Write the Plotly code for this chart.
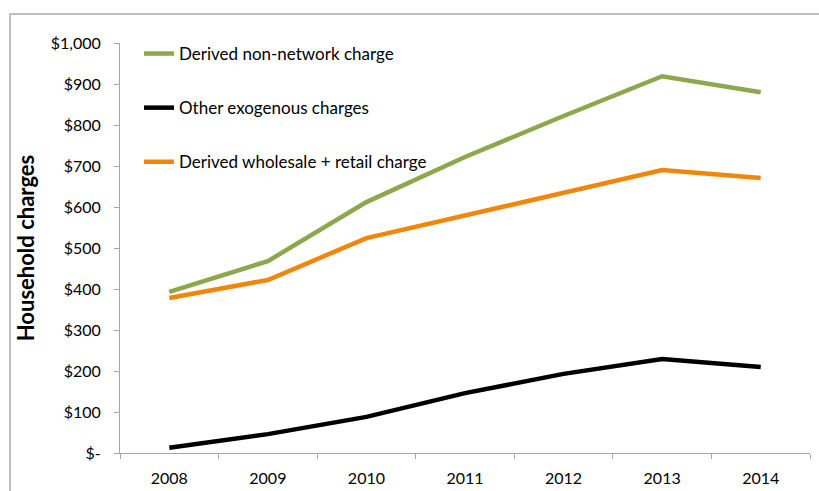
import plotly.graph_objects as go

years = ["2008", "2009", "2010", "2011", "2012", "2013", "2014"]
non_network = [393, 468, 612, 722, 822, 919, 880]
other_exogenous = [13, 46, 88, 146, 193, 229, 210]
wholesale_retail = [378, 422, 524, 580, 634, 690, 671]

y_ticks = [0, 100, 200, 300, 400, 500, 600, 700, 800, 900, 1000]
y_tick_text = ["$-", "$100", "$200", "$300", "$400", "$500", "$600",
               "$700", "$800", "$900", "$1,000"]

series = [
    ("Derived non-network charge", non_network, "#8DA84C"),
    ("Other exogenous charges", other_exogenous, "#000000"),
    ("Derived wholesale + retail charge", wholesale_retail, "#F0870C"),
]

FONT = "Lato, Liberation Sans, Arial, sans-serif"

fig = go.Figure()
for i, (name, vals, color) in enumerate(series):
    fig.add_trace(go.Scatter(
        x=years, y=vals, name=name, mode="lines",
        line=dict(color=color, width=4.5),
        legendgroup=f"g{i}",
    ))

W, H = 819, 491
ml, mr, mt, mb = 120, 9, 43, 38
pw, ph = W - ml - mr, H - mt - mb

fig.update_layout(
    width=W, height=H,
    margin=dict(l=ml, r=mr, t=mt, b=mb, autoexpand=False),
    paper_bgcolor="white", plot_bgcolor="white",
    font=dict(family=FONT, size=16, color="#000000"),
    showlegend=True,
    legend=dict(
        x=(139 - ml) / pw, y=1 + (mt - 36) / ph,
        xanchor="left", yanchor="top",
        bgcolor="rgba(0,0,0,0)",
        font=dict(family=FONT, size=17, color="#000000"),
        tracegroupgap=29,
        itemwidth=30,
    ),
    xaxis=dict(
        type="category", range=[-0.5, 6.5], automargin=False,
        showgrid=False, zeroline=False,
        showline=True, linecolor="#A6A6A6", linewidth=1,
        ticks="outside", tickson="boundaries", ticklen=5,
        tickcolor="#A6A6A6",
        tickfont=dict(family=FONT, size=16),
        ticklabelstandoff=11,
    ),
    yaxis=dict(
        range=[0, 1000], automargin=False,
        tickvals=y_ticks, ticktext=y_tick_text,
        showgrid=False, zeroline=False,
        showline=True, linecolor="#A6A6A6", linewidth=1,
        ticks="outside", ticklen=5, tickcolor="#A6A6A6",
        tickfont=dict(family=FONT, size=16),
        ticklabelstandoff=10,
        title=dict(text="<b>Household charges</b>",
                   font=dict(family=FONT, size=22), standoff=10),
    ),
)

# outer chart frame
fig.add_shape(
    type="rect", xref="paper", yref="paper",
    x0=(10 - ml) / pw, x1=(W + 20 - ml) / pw,
    y0=-(mb + 20) / ph, y1=1 + (mt - 14) / ph,
    line=dict(color="#BFBFBF", width=2), fillcolor="rgba(0,0,0,0)",
    layer="below",
)

fig.write_html("out.html")
